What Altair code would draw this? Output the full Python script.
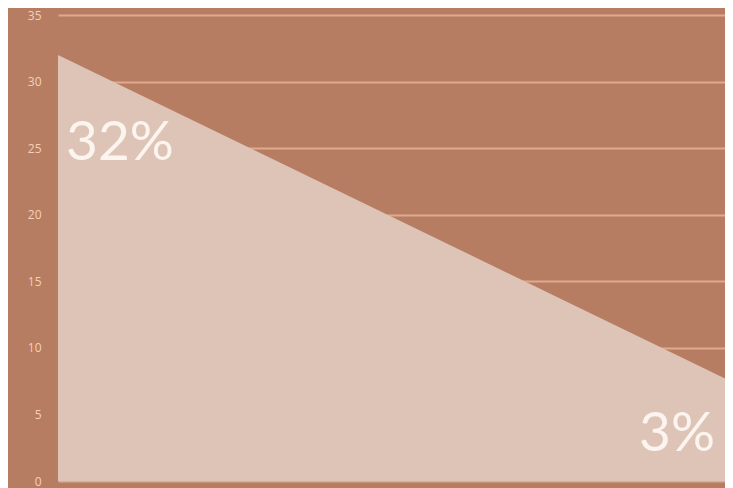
import altair as alt
import pandas as pd

# data
xs = [0, 1]
values = [32, 7.7]
labels = ["32%", "3%"]
label_x = [0, 1]
label_y = [25.4, 3.5]
label_align = ["left", "right"]

df = pd.DataFrame({"x": xs, "v": values})
lab = pd.DataFrame({"x": label_x, "y": label_y, "t": labels, "a": label_align})

BG = "#B77D63"
AREA = "#DEC4B7"
GRID = "#DFAA8E"
TICKTXT = "#F4D0BA"

xscale = alt.Scale(domain=[0, 1], nice=False, zero=False)
yscale = alt.Scale(domain=[0, 35], nice=False)

area = alt.Chart(df).mark_area(color=AREA, opacity=1).encode(
    x=alt.X("x:Q", scale=xscale, axis=None),
    y=alt.Y("v:Q", scale=yscale,
            axis=alt.Axis(values=[0, 5, 10, 15, 20, 25, 30, 35], title=None,
                          domain=False, ticks=False, labelPadding=17,
                          labelColor=TICKTXT, labelFontSize=12, labelFont="Open Sans",
                          gridColor=GRID, gridWidth=2, gridOpacity=1)),
)

left_lab = alt.Chart(lab[lab.a == "left"]).mark_text(
    align="left", baseline="middle", dx=8, fontSize=55, font="Lato", fontWeight=400, color="#FBF4EF"
).encode(x=alt.X("x:Q", scale=xscale), y=alt.Y("y:Q", scale=yscale), text="t:N")

right_lab = alt.Chart(lab[lab.a == "right"]).mark_text(
    align="right", baseline="middle", dx=-10, fontSize=55, font="Lato", fontWeight=400, color="#FBF4EF"
).encode(x=alt.X("x:Q", scale=xscale), y=alt.Y("y:Q", scale=yscale), text="t:N")

chart = alt.layer(area, left_lab, right_lab).properties(
    width=667, height=466,
    background=BG,
    autosize=alt.AutoSizeParams(type="none"),
    padding={"left": 50, "top": 7, "right": 0, "bottom": 7},
).configure_view(stroke=None)

chart.save("out.html", embed_options={"renderer": "svg", "actions": False})
